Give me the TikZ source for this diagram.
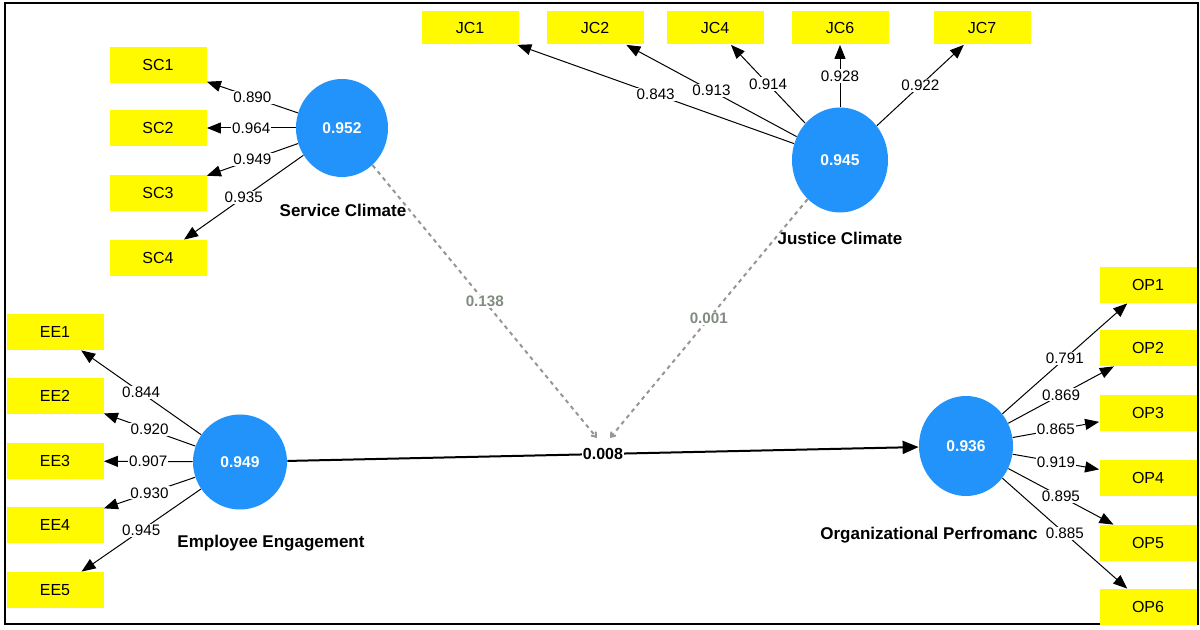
\documentclass[tikz,border=0pt]{standalone}
\usepackage{fontspec}
\setmainfont{Liberation Sans}
\usetikzlibrary{shapes.geometric,arrows.meta}
\definecolor{itemyellow}{RGB}{255,250,0}
\definecolor{latentblue}{RGB}{33,147,250}
\definecolor{pathgray}{RGB}{150,150,150}
\definecolor{pathtext}{RGB}{128,140,128}

\begin{document}
\begin{tikzpicture}[x=0.5pt,y=-0.5pt]

 \tikzset{
    item/.style={fill=itemyellow, minimum width=48.5pt, minimum height=18pt, inner sep=0pt,
      font=\fontsize{8}{9}\selectfont},
    latent/.style={ellipse, fill=latentblue, inner sep=0pt, text=white,
      font=\bfseries\fontsize{7.8}{9}\selectfont},
    caption/.style={font=\bfseries\fontsize{8.5}{10}\selectfont},
    loading/.style={-{Triangle[length=7pt,width=5.5pt]}, line width=0.5pt},
    weight/.style={fill=white, inner sep=0.6pt, font=\fontsize{7.6}{9}\selectfont},
    inner/.style={-{Triangle[length=8pt,width=6.5pt]}, line width=1pt},
    moderator/.style={pathgray, dashed, dash pattern=on 2pt off 2pt, line width=1pt,
      -{Straight Barb[length=2pt,width=3pt]}},
    modweight/.style={fill=white, inner sep=0.6pt, text=pathtext,
      font=\bfseries\fontsize{7.6}{9}\selectfont},
  }

  \useasboundingbox (0,0) rectangle (1200,630);
  \draw[line width=1pt] (5,3) rectangle (1198,624);

  % latent variables
  \node[latent, minimum width=46pt, minimum height=49pt] (sc) at (342,128) {0.952};
  \node[latent, minimum width=48pt, minimum height=52.5pt] (jc) at (840,160) {0.945};
  \node[latent, minimum width=47pt, minimum height=47.5pt] (ee) at (240,462) {0.949};
  \node[latent, minimum width=47pt, minimum height=50pt] (op) at (966,446) {0.936};

  \node[caption] at (343,210) {Service Climate};
  \node[caption] at (840,238) {Justice Climate};
  \node[caption] at (271,543) {Employee Engagement};
  \node[caption] at (929,535) {Organizational Perfromanc};

  % indicators
  \node[item] (sc1) at (158,65) {SC1};
  \node[item] (sc2) at (158,128) {SC2};
  \node[item] (sc3) at (158,193) {SC3};
  \node[item] (sc4) at (158,258) {SC4};

  \node[item, minimum height=16.5pt] (jc1) at (470,28) {JC1};
  \node[item, minimum height=16.5pt] (jc2) at (595,28) {JC2};
  \node[item, minimum height=16.5pt] (jc4) at (715,28) {JC4};
  \node[item, minimum height=16.5pt] (jc6) at (840,28) {JC6};
  \node[item, minimum height=16.5pt] (jc7) at (982,28) {JC7};

  \node[item] (ee1) at (55,332) {EE1};
  \node[item] (ee2) at (55,396) {EE2};
  \node[item] (ee3) at (55,461) {EE3};
  \node[item] (ee4) at (55,525) {EE4};
  \node[item] (ee5) at (55,590) {EE5};

  \node[item] (op1) at (1148,285) {OP1};
  \node[item] (op2) at (1148,348) {OP2};
  \node[item] (op3) at (1148,413) {OP3};
  \node[item] (op4) at (1148,478) {OP4};
  \node[item] (op5) at (1148,543) {OP5};
  \node[item] (op6) at (1148,607) {OP6};

  % outer loadings
  \draw[loading] (sc) -- node[weight] {0.890} (sc1);
  \draw[loading] (sc) -- node[weight] {0.964} (sc2);
  \draw[loading] (sc) -- node[weight] {0.949} (sc3);
  \draw[loading] (sc) -- node[weight] {0.935} (sc4);

  \draw[loading] (jc) -- node[weight] {0.843} (jc1);
  \draw[loading] (jc) -- node[weight] {0.913} (jc2);
  \draw[loading] (jc) -- node[weight] {0.914} (jc4);
  \draw[loading] (jc) -- node[weight] {0.928} (jc6);
  \draw[loading] (jc) -- node[weight] {0.922} (jc7);

  \draw[loading] (ee) -- node[weight] {0.844} (ee1);
  \draw[loading] (ee) -- node[weight] {0.920} (ee2);
  \draw[loading] (ee) -- node[weight] {0.907} (ee3);
  \draw[loading] (ee) -- node[weight] {0.930} (ee4);
  \draw[loading] (ee) -- node[weight] {0.945} (ee5);

  \draw[loading] (op) -- node[weight] {0.791} (op1);
  \draw[loading] (op) -- node[weight] {0.869} (op2);
  \draw[loading] (op) -- node[weight] {0.865} (op3);
  \draw[loading] (op) -- node[weight] {0.919} (op4);
  \draw[loading] (op) -- node[weight] {0.895} (op5);
  \draw[loading] (op) -- node[weight] {0.885} (op6);

  % structural paths
  \draw[inner] (ee) -- node[weight, font=\bfseries\fontsize{8}{9}\selectfont] {0.008} (op);

  \coordinate (msc) at (597,438);
  \coordinate (mjc) at (610,438);
  \draw[moderator] (sc) -- node[modweight] {0.138} (msc);
  \draw[moderator] (jc) -- node[modweight] {0.001} (mjc);

\end{tikzpicture}
\end{document}
